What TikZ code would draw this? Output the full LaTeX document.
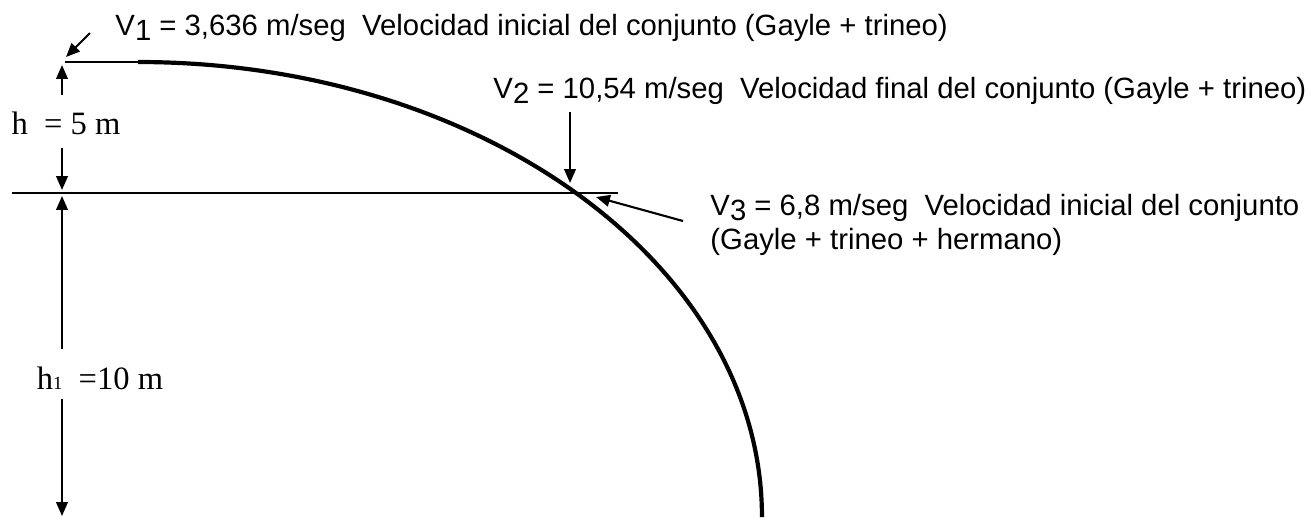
\documentclass[tikz,border=0pt]{standalone}
\usepackage{fontspec}
\setmainfont{Liberation Serif}
\newfontfamily\velfont{Liberation Sans}
\usetikzlibrary{arrows.meta}

\newcommand{\vsub}[1]{\raisebox{-2.5pt}{#1}}

\begin{document}
\begin{tikzpicture}[
  x=0.43pt,
  y=-0.43pt,
  guide/.style={line width=0.9pt},
  slope/.style={line width=1.8pt},
  pointer/.style={
    line width=0.9pt,
    -{Triangle[length=6pt,width=5pt]}
  },
  vel label/.style={
    font=\velfont\fontsize{12.6}{14.6}\selectfont,
    inner sep=0pt,
    anchor=base west,
    align=left
  },
  height label/.style={
    font=\fontsize{14}{16}\selectfont,
    inner sep=0pt
  }
]
\useasboundingbox (0,0) rectangle (1311,517);

% Slope and ground line
\coordinate (start) at (65,62);
\coordinate (top) at (138,62);
\coordinate (gl) at (12,193);
\coordinate (gr) at (618,193);
\draw[guide] (start) -- (top);
\draw[slope] (top) arc[start angle=90, end angle=0, x radius=268.3pt, y radius=195.7pt];
\draw[guide] (gl) -- (gr);

% Heights
\node[height label] (h) at (66,123) {h\ \ = 5 m};
\node[height label] (h1) at (100,378) {h{\fontsize{8}{8}\selectfont 1}\ \ =10 m};
\coordinate (hup) at (62,95);
\coordinate (hupend) at (62,65);
\coordinate (hdown) at (62,148);
\coordinate (hdownend) at (62,190);
\coordinate (h1up) at (62,349);
\coordinate (h1upend) at (62,196);
\coordinate (h1down) at (62,399);
\coordinate (h1downend) at (62,516);
\draw[pointer] (hup) -- (hupend);
\draw[pointer] (hdown) -- (hdownend);
\draw[pointer] (h1up) -- (h1upend);
\draw[pointer] (h1down) -- (h1downend);

% Velocities (the two-line label sits on its last baseline)
\node[vel label] (v1) at (115,35) {V\vsub{1} = 3,636 m/seg\ \ Velocidad inicial del conjunto (Gayle + trineo)};
\node[vel label] (v2) at (493,98) {V\vsub{2} = 10,54 m/seg\ \ Velocidad final del conjunto (Gayle + trineo)};
\node[vel label] (v3) at (710,249) {V\vsub{3} = 6,8 m/seg\ \ Velocidad inicial del conjunto\\(Gayle + trineo + hermano)};
\coordinate (v1tail) at (90,33);
\coordinate (v1tip) at (66,57);
\coordinate (v2tail) at (570,112);
\coordinate (v2tip) at (570,183);
\coordinate (v3tail) at (683,221);
\coordinate (v3tip) at (596,197);
\draw[pointer] (v1tail) -- (v1tip);
\draw[pointer] (v2tail) -- (v2tip);
\draw[pointer] (v3tail) -- (v3tip);

\end{tikzpicture}
\end{document}
